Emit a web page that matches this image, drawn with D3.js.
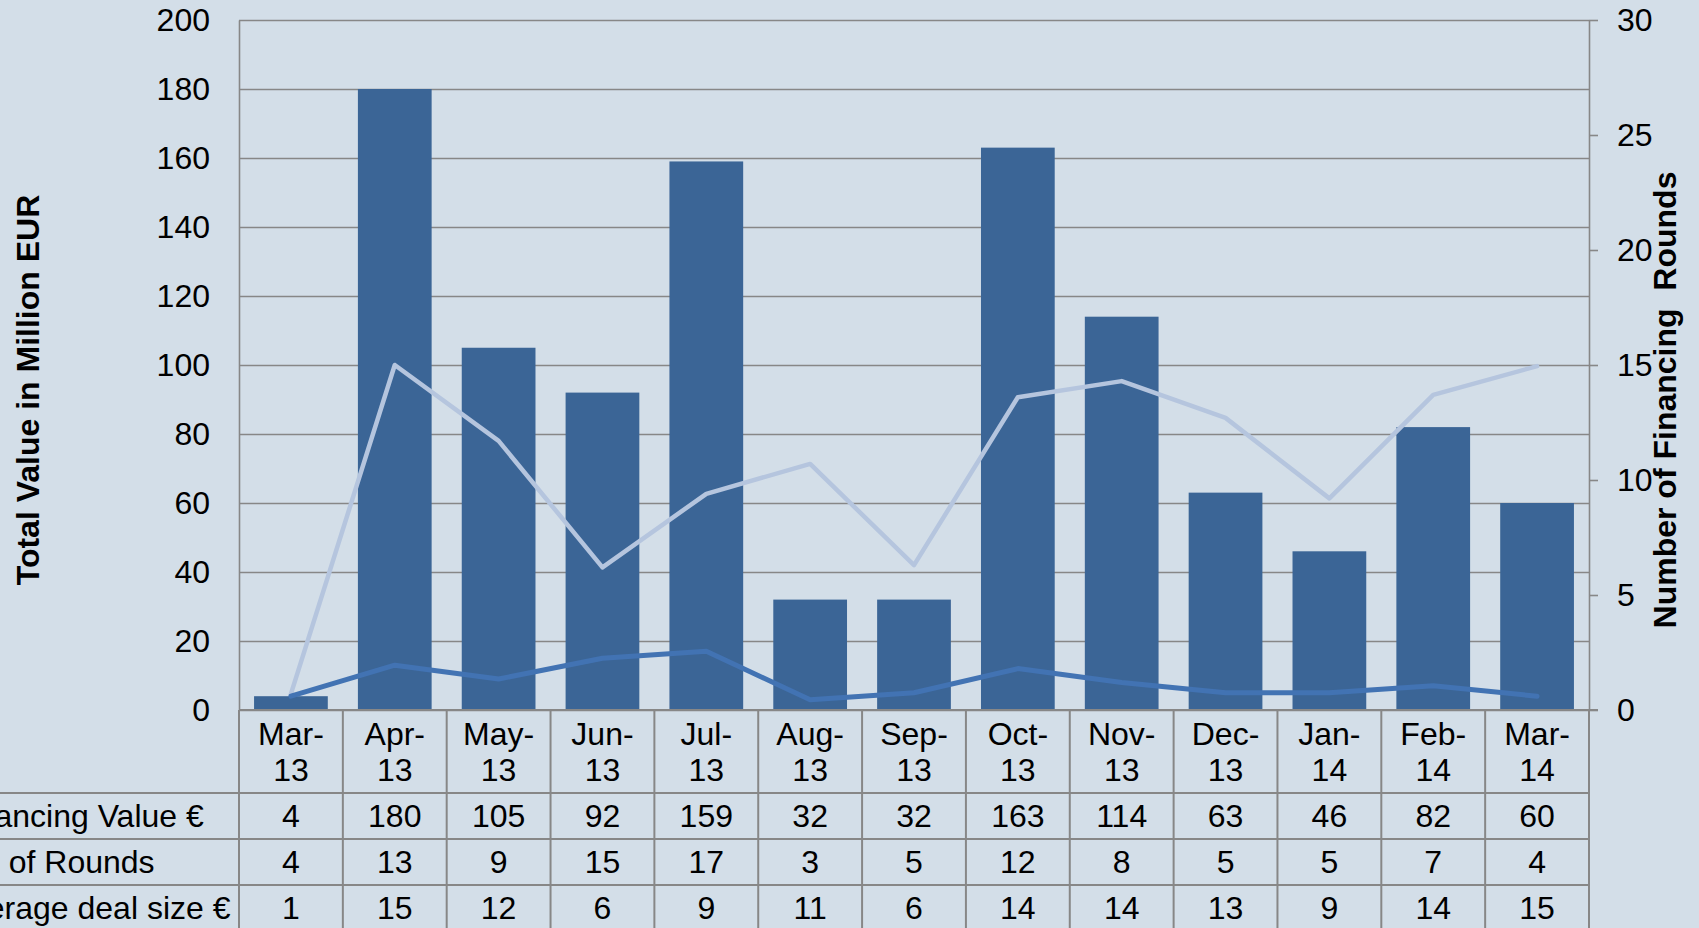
<!DOCTYPE html>
<html>
<head>
<meta charset="utf-8">
<script src="https://cdn.jsdelivr.net/npm/d3@7"></script>
<style>
  html, body { margin: 0; padding: 0; background: #d3dee8; overflow: hidden; }
  svg text { font-family: "Liberation Sans", Arial, sans-serif; fill: #000; }
  .axis text { font-size: 32px; }
  .title { font-size: 32px; font-weight: bold; }
  .cell { font-size: 32px; }
</style>
</head>
<body>
<div id="vis"></div>
<script>
// Months shown along the bottom (split at the dash into two lines)
var months = ['Mar-13', 'Apr-13', 'May-13', 'Jun-13', 'Jul-13', 'Aug-13', 'Sep-13',
              'Oct-13', 'Nov-13', 'Dec-13', 'Jan-14', 'Feb-14', 'Mar-14'];

// Financing value in million EUR (bars, left axis)
var financingValue = [4, 180, 105, 92, 159, 32, 32, 163, 114, 63, 46, 82, 60];

// Number of rounds (dark line, drawn on left axis)
var rounds = [4, 13, 9, 15, 17, 3, 5, 12, 8, 5, 5, 7, 4];

// Average deal size shown in the table (rounded)
var avgDealTable = [1, 15, 12, 6, 9, 11, 6, 14, 14, 13, 9, 14, 15];

// Average deal size as plotted (light line, right axis)
var avgDealLine = [0.7, 15.0, 11.7, 6.2, 9.4, 10.7, 6.3, 13.6, 14.3, 12.7, 9.2, 13.7, 14.95];

var leftTicks = [0, 20, 40, 60, 80, 100, 120, 140, 160, 180, 200];
var rightTicks = [0, 5, 10, 15, 20, 25, 30];

var rowLabels = ['Financing Value \u20ac', 'No. of Rounds', 'Average deal size \u20ac'];
var rowValues = [financingValue, rounds, avgDealTable];

var width = 1699, height = 928;
var margin = { left: 239, right: 110, top: 20 };
var plotBottom = 710;
var drawWidth = width - margin.left - margin.right;
var drawHeight = plotBottom - margin.top;
var rowHeight = 46;
var headerBottom = 793;

var svg = d3.select('#vis').append('svg')
    .attr('width', width)
    .attr('height', height);

var gridColor = '#878787';

// Scales
var xCol = d3.scaleBand().domain(months).range([0, drawWidth]);
var xBar = d3.scaleBand().domain(months).range([0, drawWidth])
    .paddingInner(0.29).paddingOuter(0.145);
var yLeft = d3.scaleLinear().domain([0, 200]).range([drawHeight, 0]);
var yRight = d3.scaleLinear().domain([0, 30]).range([drawHeight, 0]);

var g = svg.append('g')
    .attr('transform', 'translate(' + margin.left + ',' + margin.top + ')');

// Left axis with gridlines
var leftAxis = g.append('g').attr('class', 'axis')
    .call(d3.axisLeft(yLeft).tickValues(leftTicks).tickSize(-drawWidth)
        .tickSizeOuter(0).tickPadding(29));
leftAxis.selectAll('line').attr('stroke', gridColor).attr('stroke-width', 1.6);
leftAxis.select('.domain').attr('stroke', gridColor).attr('stroke-width', 1.6);

// Right axis
var rightAxis = g.append('g').attr('class', 'axis')
    .attr('transform', 'translate(' + drawWidth + ',0)')
    .call(d3.axisRight(yRight).tickValues(rightTicks).tickSize(9)
        .tickSizeOuter(0).tickPadding(19));
rightAxis.selectAll('line').attr('stroke', gridColor).attr('stroke-width', 1.6);
rightAxis.select('.domain').attr('stroke', gridColor).attr('stroke-width', 1.6);
svg.selectAll('.axis text').style('font-size', '32px');

// Bars
g.selectAll('rect.bar').data(financingValue).enter().append('rect')
    .attr('class', 'bar')
    .attr('x', function(d, i) { return xBar(months[i]); })
    .attr('width', xBar.bandwidth())
    .attr('y', function(d) { return yLeft(d); })
    .attr('height', function(d) { return drawHeight - yLeft(d); })
    .attr('fill', '#3b6596');

// Light line: average deal size on right axis
var lightLine = d3.line()
    .x(function(d, i) { return xCol(months[i]) + xCol.bandwidth() / 2; })
    .y(function(d) { return yRight(d); });
g.append('path').datum(avgDealLine)
    .attr('d', lightLine)
    .attr('fill', 'none')
    .attr('stroke', '#b5c5de')
    .attr('stroke-width', 4.5)
    .attr('stroke-linecap', 'round')
    .attr('stroke-linejoin', 'round');

// Dark line: number of rounds on left axis
var darkLine = d3.line()
    .x(function(d, i) { return xCol(months[i]) + xCol.bandwidth() / 2; })
    .y(function(d) { return yLeft(d); });
g.append('path').datum(rounds)
    .attr('d', darkLine)
    .attr('fill', 'none')
    .attr('stroke', '#4273b3')
    .attr('stroke-width', 5)
    .attr('stroke-linecap', 'round')
    .attr('stroke-linejoin', 'round');

// Baseline drawn again on top of the bars
g.append('line')
    .attr('x1', 0).attr('x2', drawWidth + 9)
    .attr('y1', drawHeight).attr('y2', drawHeight)
    .attr('stroke', gridColor).attr('stroke-width', 2);

// Data table below the plot
var table = svg.append('g');

// Vertical column borders
var borders = months.map(function(m) { return xCol(m); }).concat([drawWidth]);
table.selectAll('line.vline').data(borders).enter().append('line')
    .attr('x1', function(d) { return margin.left + d; })
    .attr('x2', function(d) { return margin.left + d; })
    .attr('y1', plotBottom).attr('y2', height)
    .attr('stroke', gridColor).attr('stroke-width', 2);

// Horizontal row borders
var hlines = [0, 1, 2, 3].map(function(i) { return headerBottom + i * rowHeight; });
table.selectAll('line.hline').data(hlines).enter().append('line')
    .attr('x1', 0).attr('x2', margin.left + drawWidth)
    .attr('y1', function(d) { return d; })
    .attr('y2', function(d) { return d; })
    .attr('stroke', gridColor).attr('stroke-width', 2);

// Month headers on two lines
months.forEach(function(m) {
    var parts = m.split('-');
    var cx = margin.left + xCol(m) + xCol.bandwidth() / 2;
    var t = table.append('text').attr('class', 'cell')
        .attr('text-anchor', 'middle');
    t.append('tspan').attr('x', cx).attr('y', 745).text(parts[0] + '-');
    t.append('tspan').attr('x', cx).attr('y', 781).text(parts[1]);
});

// Row labels and values
rowLabels.forEach(function(label, r) {
    var yMid = headerBottom + r * rowHeight + rowHeight / 2;
    table.append('text').attr('class', 'cell')
        .attr('x', -50).attr('y', yMid).attr('dy', '0.35em')
        .text(label);
    rowValues[r].forEach(function(v, i) {
        table.append('text').attr('class', 'cell')
            .attr('text-anchor', 'middle')
            .attr('x', margin.left + xCol(months[i]) + xCol.bandwidth() / 2)
            .attr('y', yMid).attr('dy', '0.35em')
            .text(v);
    });
});

// Axis titles
svg.append('text').attr('class', 'title')
    .attr('transform', 'translate(39,390) rotate(-90)')
    .attr('text-anchor', 'middle')
    .text('Total Value in Million EUR');

svg.append('text').attr('class', 'title')
    .attr('transform', 'translate(1676,400) rotate(-90)')
    .attr('text-anchor', 'middle')
    .attr('xml:space', 'preserve')
    .style('white-space', 'pre')
    .text('Number of Financing  Rounds');
</script>
</body>
</html>
